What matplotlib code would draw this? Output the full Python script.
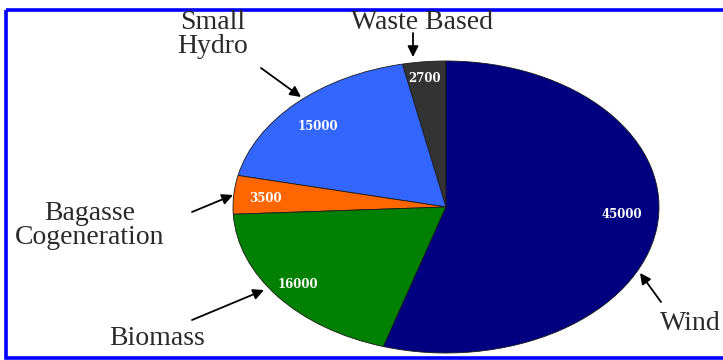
import matplotlib
matplotlib.use("Agg")
import matplotlib.pyplot as plt
from matplotlib.patches import Rectangle

# Data (counter-clockwise from the top)
categories = ["Waste Based", "Small Hydro", "Bagasse Cogeneration", "Biomass", "Wind"]
values = [2700, 15000, 3500, 16000, 45000]
colors = ["#333333", "#3366FF", "#FF6600", "#008000", "#000080"]
value_labels = ["2700", "15000", "3500", "16000", "45000"]
cat_lines = [["Waste Based"], ["Small", "Hydro"], ["Bagasse", "Cogeneration"], ["Biomass"], ["Wind"]]

W, H = 723, 360
fig = plt.figure(figsize=(W / 100, H / 100), dpi=100)

# Pie axes (elliptical by non-equal aspect)
px_l, px_r, px_t, px_b = 233, 659, 61, 353
ax = fig.add_axes([px_l / W, 1 - px_b / H, (px_r - px_l) / W, (px_b - px_t) / H])
wedges, _ = ax.pie(values, colors=colors, startangle=90, counterclock=True,
                   wedgeprops=dict(edgecolor="#1a1a1a", linewidth=0.6))
ax.set_aspect("auto")
ax.set_xlim(-1, 1)
ax.set_ylim(-1, 1)
ax.axis("off")

# Overlay in pixel coordinates
ov = fig.add_axes([0, 0, 1, 1], zorder=5)
ov.set_xlim(0, W)
ov.set_ylim(H, 0)
ov.axis("off")
ov.patch.set_alpha(0)

# Value labels inside slices
val_pos = [(425, 78), (318, 127), (265, 198), (298, 284), (622, 215)]
for (x, y), t in zip(val_pos, value_labels):
    ov.text(x, y, t, color="white", fontsize=8.5, fontweight="bold",
            family="DejaVu Serif", ha="center", va="center")

# Category labels (one baseline per line)
lab_pos = [(422, [29]), (213, [29, 53]), (90, [220, 244]), (157, [345]), (690, [330])]
for (x, ys), lines in zip(lab_pos, cat_lines):
    for y, t in zip(ys, lines):
        ov.text(x, y, t, color="#2a2a2a", fontsize=20, family="Liberation Serif",
                ha="center", va="baseline")

# Arrows (tail -> head)
arrows = [((413, 33), (413, 57)), ((261, 68), (301, 97)), ((192, 212), (233, 195)),
          ((192, 320), (264, 290)), ((661, 302), (640, 273))]
for (tx, ty), (hx, hy) in arrows:
    ov.annotate("", xy=(hx, hy), xytext=(tx, ty),
                arrowprops=dict(arrowstyle="-|>", color="black", lw=1.3,
                                mutation_scale=16, shrinkA=0, shrinkB=0))

# Blue frame
ov.add_patch(Rectangle((5.5, 9.5), 730, 348, fill=False, edgecolor="#0000FF",
                       linewidth=2.6, clip_on=False))

fig.savefig("out.png", dpi=100)
